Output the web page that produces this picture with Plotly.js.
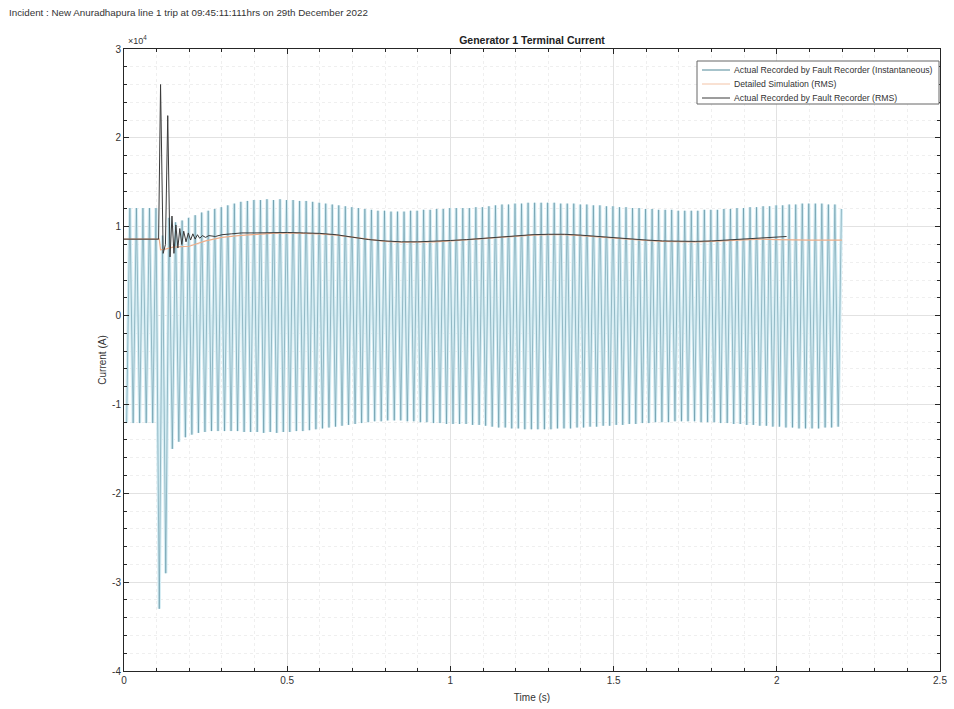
<!DOCTYPE html>
<html>
<head>
<meta charset="utf-8">
<script src="https://cdn.plot.ly/plotly-3.0.1.min.js"></script>
<style>html,body{margin:0;padding:0;background:#fff;}#chart{width:954px;height:709px;}</style>
</head>
<body>
<div id="chart"></div>
<script>
// Values in units of 10^4 A
// Instantaneous waveform: per-cycle peaks (50 Hz, cycle k: negative peak then positive peak)
var cycleStart = 0.008;     // time of first negative peak (s)
var cyclePeriod = 0.02;     // s
var instPos = [
  1.21,1.21,1.21,1.21,1.21,
  0.90,1.10,1.05,1.07,1.10,1.13,1.16,1.18,1.20,1.22,1.24,1.26,1.28,1.29,1.30,
  1.30,1.31,1.30,1.31,1.30,1.30,1.29,1.29,
  1.28,1.27,1.26,1.25,1.24,1.23,1.22,1.21,1.20,
  1.19,1.18,1.18,1.17,1.17,1.17,1.18,
  1.18,1.19,1.19,1.20,1.20,1.21,1.21,
  1.21,1.21,1.22,1.22,1.23,1.24,1.25,
  1.25,1.26,1.26,1.27,1.27,1.27,1.27,1.27,1.26,1.26,1.26,1.25,1.25,
  1.24,1.24,1.23,1.23,1.22,1.22,1.21,1.21,
  1.20,1.20,1.19,1.19,1.19,1.18,1.18,1.18,1.18,1.19,1.19,1.19,1.20,
  1.20,1.21,1.21,1.22,1.22,1.23,1.23,1.24,1.24,1.25,
  1.25,1.26,1.26,1.26,1.26,1.25,1.25,1.20
];
var instNeg = [
  -1.21,-1.21,-1.21,-1.21,-1.21,
  -3.30,-2.90,-1.50,-1.42,-1.37,-1.34,-1.32,-1.31,-1.30,-1.30,-1.30,-1.30,-1.30,-1.31,-1.31,
  -1.31,-1.32,-1.31,-1.32,-1.31,-1.31,-1.30,-1.30,
  -1.29,-1.28,-1.27,-1.26,-1.25,-1.24,-1.23,-1.22,-1.21,
  -1.20,-1.19,-1.19,-1.18,-1.18,-1.18,-1.19,
  -1.19,-1.20,-1.20,-1.21,-1.21,-1.22,-1.22,
  -1.22,-1.22,-1.23,-1.23,-1.24,-1.25,-1.26,
  -1.26,-1.27,-1.27,-1.28,-1.28,-1.28,-1.28,-1.28,-1.27,-1.27,-1.27,-1.26,-1.26,
  -1.25,-1.25,-1.24,-1.24,-1.23,-1.23,-1.22,-1.22,
  -1.21,-1.21,-1.20,-1.20,-1.20,-1.19,-1.19,-1.19,-1.19,-1.20,-1.20,-1.20,-1.21,
  -1.21,-1.22,-1.22,-1.23,-1.23,-1.24,-1.24,-1.25,-1.25,-1.26,
  -1.26,-1.27,-1.27,-1.27,-1.27,-1.26,-1.26,-1.25
];

// Detailed Simulation (RMS)
var simT = [0,0.05,0.10,0.108,0.112,0.13,0.15,0.20,0.25,0.30,0.35,0.40,0.45,0.50,0.55,0.60,0.65,0.70,0.75,0.80,0.85,0.90,0.95,1.00,1.05,1.10,1.15,1.20,1.25,1.30,1.35,1.40,1.45,1.50,1.55,1.60,1.65,1.70,1.75,1.80,1.85,1.90,1.95,2.00,2.05,2.10,2.20];
var simRms = [0.86,0.86,0.86,0.86,0.74,0.75,0.77,0.78,0.84,0.88,0.90,0.915,0.925,0.93,0.925,0.92,0.905,0.88,0.855,0.835,0.825,0.825,0.83,0.84,0.85,0.865,0.88,0.895,0.905,0.91,0.91,0.90,0.885,0.87,0.855,0.845,0.835,0.83,0.83,0.835,0.845,0.855,0.86,0.855,0.85,0.85,0.85];

// Actual Recorded by Fault Recorder (RMS)
var recT = [0,0.05,0.10,0.106,0.112,0.12,0.127,0.134,0.141,0.147,0.153,0.159,0.165,0.171,0.177,0.183,0.19,0.197,0.204,0.211,0.218,0.225,0.232,0.24,0.25,0.26,0.28,0.30,0.33,0.36,0.40,0.45,0.50,0.55,0.60,0.65,0.70,0.75,0.80,0.85,0.90,0.95,1.00,1.05,1.10,1.15,1.20,1.25,1.30,1.35,1.40,1.45,1.50,1.55,1.60,1.65,1.70,1.75,1.80,1.85,1.90,1.95,2.00,2.03];
var recRms = [0.86,0.86,0.86,0.86,2.60,0.70,0.80,2.25,0.66,1.12,0.70,1.02,0.76,0.98,0.80,0.95,0.83,0.93,0.85,0.92,0.86,0.91,0.87,0.90,0.88,0.90,0.89,0.91,0.92,0.93,0.93,0.935,0.935,0.93,0.925,0.91,0.88,0.855,0.84,0.83,0.83,0.835,0.845,0.855,0.87,0.885,0.90,0.91,0.915,0.915,0.905,0.89,0.875,0.86,0.85,0.84,0.835,0.835,0.84,0.85,0.86,0.87,0.885,0.89];

var seriesNames = ['Actual Recorded by Fault Recorder (Instantaneous)', 'Detailed Simulation (RMS)', 'Actual Recorded by Fault Recorder (RMS)'];
var xTicks = [0,0.5,1,1.5,2,2.5];
var xTickText = ['0','0.5','1','1.5','2','2.5'];
var yTicks = [-4,-3,-2,-1,0,1,2,3];
var yTickText = ['-4','-3','-2','-1','0','1','2','3'];

// Build the instantaneous trace from the per-cycle peaks
var instT = [], instY = [];
for (var k = 0; k < instPos.length; k++) {
  instT.push(cycleStart + k * cyclePeriod);
  instY.push(instNeg[k]);
  instT.push(cycleStart + k * cyclePeriod + cyclePeriod / 2);
  instY.push(instPos[k]);
}

var FONT = 'Liberation Sans, Arial, sans-serif';
var colors = ['#5a8e9e', '#eeae8a', '#3a3a3a'];
var traces = [
  {x: instT, y: instY, type: 'scatter', mode: 'lines', name: seriesNames[0], showlegend: false,
   line: {color: '#d5edf4', width: 3.2}, hoverinfo: 'skip'},
  {x: instT, y: instY, type: 'scatter', mode: 'lines', name: seriesNames[0],
   line: {color: colors[0], width: 0.55}},
  {x: simT, y: simRms, type: 'scatter', mode: 'lines', name: seriesNames[1],
   line: {color: colors[1], width: 1.2}},
  {x: recT, y: recRms, type: 'scatter', mode: 'lines', name: seriesNames[2],
   line: {color: colors[2], width: 1}}
];

function axisBase() {
  return {
    showline: true, mirror: 'allticks', linecolor: '#262626', linewidth: 1,
    ticks: 'inside', ticklen: 5, tickcolor: '#262626',
    showgrid: true, gridcolor: '#e2e2e2', gridwidth: 1,
    zeroline: false,
    tickfont: {family: FONT, size: 10, color: '#333'}
  };
}
var xa = axisBase();
xa.range = [0, 2.5]; xa.tickvals = xTicks; xa.ticktext = xTickText;
xa.minor = {dtick: 0.1, ticks: 'inside', ticklen: 3, tickcolor: '#262626', showgrid: true, gridcolor: '#efefef', griddash: 'dot'};
xa.title = {text: 'Time (s)', font: {family: FONT, size: 10, color: '#333'}, standoff: 8};

var ya = axisBase();
ya.range = [-4, 3]; ya.tickvals = yTicks; ya.ticktext = yTickText;
ya.minor = {dtick: 0.2, ticks: 'inside', ticklen: 3, tickcolor: '#262626', showgrid: true, gridcolor: '#efefef', griddash: 'dot'};
ya.title = {text: 'Current (A)', font: {family: FONT, size: 10, color: '#333'}, standoff: 3};

// Hand-drawn MATLAB-style legend (paper coordinates from pixel positions)
function px2x(p) { return (p - 124) / 816; }
function px2y(p) { return (671 - p) / 622; }
var shapes = [
  {type: 'rect', xref: 'paper', yref: 'paper', x0: px2x(697), x1: px2x(939), y0: px2y(104), y1: px2y(61),
   fillcolor: '#fff', line: {color: '#666', width: 1}, layer: 'above'}
];
var annotations = [
  {text: 'Incident : New Anuradhapura line 1 trip at 09:45:11:111hrs on 29th December 2022',
   xref: 'paper', yref: 'paper', x: px2x(7), y: px2y(13), xanchor: 'left', yanchor: 'middle',
   showarrow: false, font: {family: FONT, size: 9.8, color: '#333'}},
  {text: '\u00d710<sup>4</sup>', xref: 'paper', yref: 'paper', x: 0.003, y: 1.002, xanchor: 'left', yanchor: 'bottom',
   showarrow: false, font: {family: FONT, size: 9, color: '#333'}}
];
var rowsPx = [70, 84, 98];
var legendColors = ['#4e8797', '#f3c3a6', colors[2]];
for (var i = 0; i < 3; i++) {
  shapes.push({type: 'line', xref: 'paper', yref: 'paper', x0: px2x(702), x1: px2x(730), y0: px2y(rowsPx[i]), y1: px2y(rowsPx[i]),
               line: {color: legendColors[i], width: 1}, layer: 'above'});
  annotations.push({text: seriesNames[i], xref: 'paper', yref: 'paper', x: px2x(732), y: px2y(rowsPx[i]),
                    xanchor: 'left', yanchor: 'middle', showarrow: false,
                    font: {family: FONT, size: 8.7, color: '#333'}});
}

var layout = {
  width: 954, height: 709,
  margin: {l: 124, r: 14, t: 49, b: 38},
  paper_bgcolor: '#fff', plot_bgcolor: '#fff',
  font: {family: FONT, color: '#333'},
  title: {text: '<b>Generator 1 Terminal Current</b>', font: {family: FONT, size: 10.5, color: '#222'},
          xref: 'paper', x: 0.5, xanchor: 'center', yref: 'container', y: 1 - 40/709, yanchor: 'middle'},
  xaxis: xa, yaxis: ya,
  showlegend: false,
  shapes: shapes,
  annotations: annotations
};

Plotly.newPlot('chart', traces, layout, {displayModeBar: false, staticPlot: true});
</script>
</body>
</html>
